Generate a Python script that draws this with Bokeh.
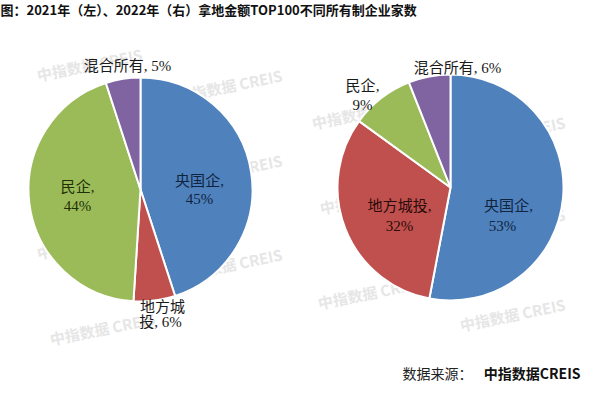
import math
from bokeh.plotting import figure
from bokeh.models import ColumnDataSource, Range1d
from bokeh.core.properties import value
from bokeh.embed import file_html
from bokeh.resources import INLINE

# ---- data ----
title_text = "图：2021年（左）、2022年（右）拿地金额TOP100不同所有制企业家数"
categories = ["央国企", "地方城投", "民企", "混合所有"]
colors = ["#4F81BD", "#C0504D", "#9BBB59", "#8064A2"]
share_2021 = [45, 6, 44, 5]
share_2022 = [53, 32, 9, 6]
source_label = "数据来源："
source_name = "中指数据CREIS"
watermark = "中指数据 CREIS"

W, H = 584, 382
p = figure(width=W, height=H, output_backend="svg", toolbar_location=None,
           x_range=Range1d(0, W), y_range=Range1d(0, H),
           min_border=0, match_aspect=False)
p.axis.visible = False
p.grid.visible = False
p.outline_line_color = None
p.background_fill_color = "white"


def X(px):
    return px - 8


def Y(py):
    return H - (py - 8)


CJK = "Noto Sans CJK SC"
MIX = "'Liberation Serif', 'Noto Sans CJK SC'"

# watermarks
wm_pos = [(97, 72), (237, 93), (97, 155), (237, 178), (97, 250), (237, 272), (110, 336),
          (372, 120), (520, 140), (380, 205), (520, 232), (378, 300), (520, 322)]
p.text(x=[X(a) for a, b in wm_pos], y=[Y(b) for a, b in wm_pos], text=[watermark] * len(wm_pos),
       text_font=value(CJK), text_font_size="15px", text_color="#e6e6e6", text_font_style="bold",
       angle=0.2, text_align="center", text_baseline="middle", level="underlay")


def pie(cx, cy, r, vals):
    total = sum(vals)
    starts, ends = [], []
    cum = 0.0
    for v in vals:
        a0 = math.pi / 2 - 2 * math.pi * (cum + v) / total
        a1 = math.pi / 2 - 2 * math.pi * cum / total
        starts.append(a0)
        ends.append(a1)
        cum += v
    src = ColumnDataSource(dict(start=starts, end=ends, color=colors))
    p.wedge(x=X(cx), y=Y(cy), radius=r, start_angle="start", end_angle="end",
            fill_color="color", line_color="white", line_width=2, source=src)


pie(148, 197, 112, share_2021)
pie(458, 195, 113, share_2022)


def lab(lines, px, py, color="#1a1a1a", size="15px"):
    p.text(x=[X(px)], y=[Y(py)], text=[lines], text_font=value(MIX), text_font_size=size,
           text_color=color, text_align="center", text_baseline="middle")


# left pie labels
lab(f"{categories[0]},", 207, 188, "#0f2440")
lab(f"{share_2021[0]}%", 207, 206, "#0f2440")
lab(f"{categories[1][:3]}", 170, 314)
lab(f"{categories[1][3:]}, {share_2021[1]}%", 168, 329)
lab(f"{categories[2]},", 85, 194, "#1f3008")
lab(f"{share_2021[2]}%", 85, 213, "#1f3008")
lab(f"{categories[3]}, {share_2021[3]}%", 135, 73)

# right pie labels
lab(f"{categories[0]},", 516, 213, "#0f2440")
lab(f"{share_2022[0]}%", 510, 233, "#0f2440")
lab(f"{categories[1]},", 407, 213, "#2a0a0a")
lab(f"{share_2022[1]}%", 407, 233, "#2a0a0a")
lab(f"{categories[2]},", 370, 93)
lab(f"{share_2022[2]}%", 370, 112)
lab(f"{categories[3]}, {share_2022[3]}%", 465, 75)

# title
p.text(x=[X(8)], y=[Y(17)], text=[title_text], text_font=value(CJK), text_font_size="13px",
       text_font_style="bold", text_color="#111111", text_align="left", text_baseline="middle")

# source
p.text(x=[X(410)], y=[Y(380)], text=[source_label], text_font=value(CJK), text_font_size="14px",
       text_color="#222222", text_align="left", text_baseline="middle")
p.text(x=[X(588)], y=[Y(380)], text=[source_name], text_font=value(CJK), text_font_size="14px",
       text_font_style="bold", text_color="#111111", text_align="right", text_baseline="middle")

open("out.html", "w").write(file_html(p, INLINE))
